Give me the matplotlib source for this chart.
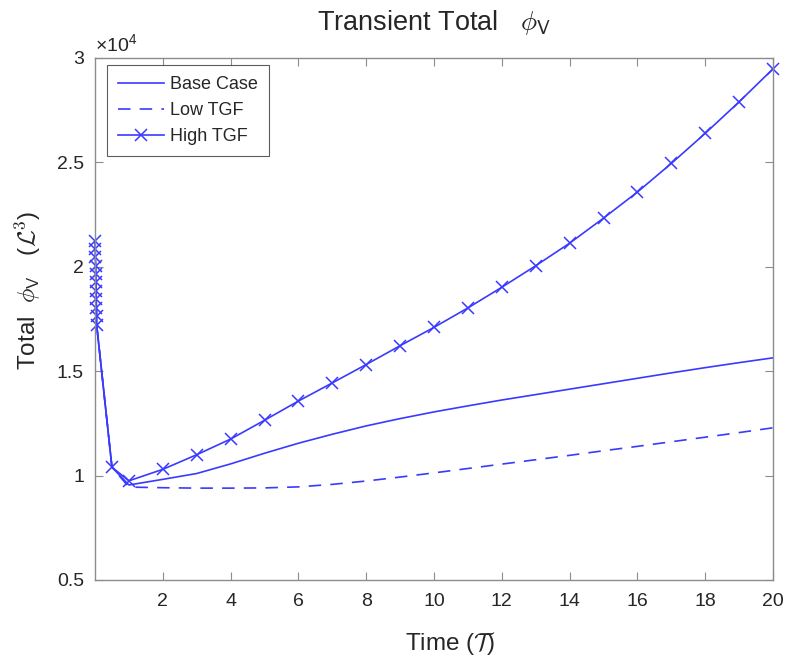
import matplotlib
matplotlib.use("Agg")
import matplotlib.pyplot as plt
from matplotlib.ticker import FuncFormatter

# ---- data ----
early_t = [0.0, 0.005, 0.01, 0.015, 0.02, 0.025, 0.03, 0.035, 0.04, 0.045, 0.05]
early_v = [21250, 20850, 20450, 20050, 19650, 19250, 18850, 18450, 18050, 17650, 17200]
late_t = [0.5, 1, 2, 3, 4, 5, 6, 7, 8, 9, 10, 11, 12, 13, 14, 15, 16, 17, 18, 19, 20]
base_late = [10400, 9550, 9820, 10100, 10560, 11070, 11550, 11980, 12380, 12730, 13050,
             13340, 13620, 13880, 14140, 14400, 14660, 14920, 15170, 15410, 15640]
low_late = [10400, 9450, 9420, 9400, 9400, 9410, 9460, 9580, 9740, 9930, 10130,
            10340, 10550, 10760, 10970, 11190, 11400, 11620, 11840, 12060, 12290]
high_late = [10400, 9750, 10300, 11000, 11750, 12650, 13570, 14440, 15320, 16220, 17100,
             18030, 19020, 20050, 21130, 22330, 23580, 24950, 26390, 27900, 29480]
series_names = ["Base Case", "Low TGF", "High TGF"]
x_ticks = [2, 4, 6, 8, 10, 12, 14, 16, 18, 20]
y_ticks = [5000, 10000, 15000, 20000, 25000, 30000]

t = early_t + late_t
base = early_v + base_late
low = early_v + low_late
high = early_v + high_late

plt.rcParams['font.family'] = ['Liberation Sans', 'DejaVu Sans']
plt.rcParams['mathtext.fontset'] = 'cm'
plt.rcParams['mathtext.rm'] = 'Liberation Sans'
plt.rcParams['mathtext.it'] = 'Liberation Sans:italic'
plt.rcParams['mathtext.sf'] = 'Liberation Sans'

txt = '#262626'
axc = '#8c8c8c'
blue = '#3a3aff'

fig = plt.figure(figsize=(7.88, 6.66), dpi=100)
ax = fig.add_axes([95/788, 1-580/666, (773-95)/788, (580-58)/666])

ax.plot(t, base, color=blue, lw=1.2, label=series_names[0])
ax.plot(t, low, color=blue, lw=1.2, ls=(0, (7.5, 5.5)), label=series_names[1])
ax.plot(t, high, color=blue, lw=1.2, marker='x', ms=8, mew=1.1, label=series_names[2],
        clip_on=False)

ax.set_xlim(0, 20)
ax.set_ylim(5000, 30000)
ax.set_xticks(x_ticks)
ax.set_yticks(y_ticks)
ax.yaxis.set_major_formatter(FuncFormatter(lambda v, p: '%g' % (v / 1e4)))
ax.tick_params(direction='in', length=6, width=0.8, colors=axc, labelcolor=txt,
               labelsize=14, top=True, right=True)
ax.tick_params(axis='x', pad=9)
ax.tick_params(axis='y', pad=8)
for s in ax.spines.values():
    s.set_color(axc)
    s.set_linewidth(1.0)

ax.text(0.0, 1.006, r'$\times\mathrm{10}^{\mathrm{4}}$', transform=ax.transAxes,
        fontsize=14, color=txt, ha='left', va='bottom', math_fontfamily='custom')

ax.set_title(r'Transient Total   $\phi_{\mathsf{V}}$', fontsize=19.5, color=txt, pad=20)
ax.set_xlabel(r'Time ($\mathcal{T}$)', fontsize=17.5, color=txt)
ax.xaxis.set_label_coords(0.525, -0.095)
ax.set_ylabel(r'Total  $\phi_{\mathsf{V}}$   ($\mathcal{L}^3$)', fontsize=17.5, color=txt)
ax.yaxis.set_label_coords(-0.076, 0.555)

leg = ax.legend(loc='upper left', bbox_to_anchor=(0.0177, 0.9866), fontsize=13,
                frameon=True, fancybox=False, edgecolor='#333333', handlelength=2.55,
                handletextpad=0.35, borderpad=0.6, labelspacing=0.5, borderaxespad=0)
leg.get_frame().set_linewidth(0.8)
for tx in leg.get_texts():
    tx.set_color(txt)

fig.savefig('out.png', dpi=100)
